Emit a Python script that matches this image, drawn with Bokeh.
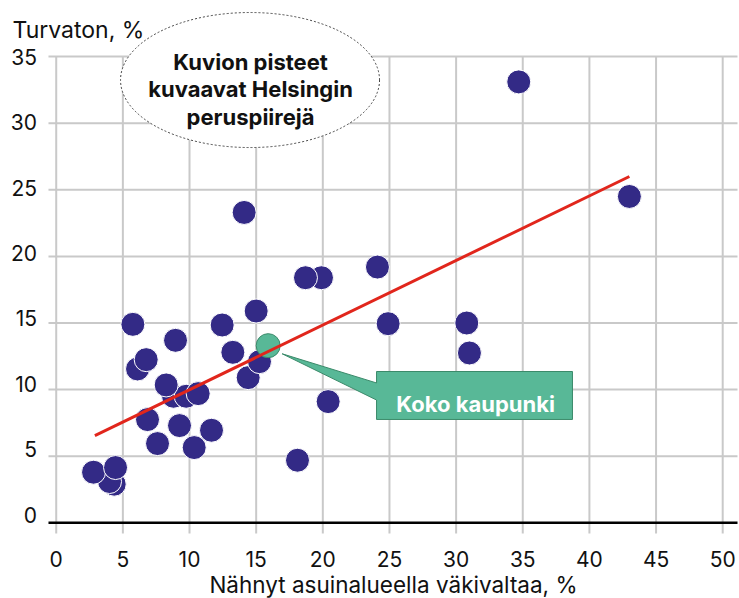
from bokeh.plotting import figure
from bokeh.core.properties import value
from bokeh.embed import file_html
from bokeh.resources import INLINE

# ---------------- data ----------------
violence_seen = [4.35, 4.0, 2.8, 4.45, 34.7, 43.0, 14.1, 19.9, 18.7, 24.1, 15.0,
                 5.75, 12.45, 8.95, 13.25, 14.4, 15.25, 6.1, 6.75, 8.8, 9.75,
                 10.65, 8.25, 6.85, 9.25, 11.65, 7.6, 10.35, 18.1, 20.4, 24.9,
                 30.8, 31.0]
insecure = [2.9, 3.1, 3.8, 4.15, 33.1, 24.5, 23.3, 18.4, 18.4, 19.2, 15.9,
            14.9, 14.85, 13.7, 12.8, 10.9, 12.1, 11.55, 12.25, 9.5, 9.5,
            9.7, 10.35, 7.75, 7.3, 6.95, 5.95, 5.65, 4.7, 9.1, 14.95,
            15.0, 12.75]
city_x = [15.9]
city_y = [13.3]
city_label = "Koko kaupunki"
trend_x = [2.9, 43.0]
trend_y = [6.55, 26.0]
x_ticks = [0, 5, 10, 15, 20, 25, 30, 35, 40, 45, 50]
x_tick_labels = [str(v) for v in x_ticks]
y_ticks = [0, 5, 10, 15, 20, 25, 30, 35]
y_tick_labels = [str(v) for v in y_ticks]
y_title = "Turvaton, %"
x_title = "Nähnyt asuinalueella väkivaltaa, %"
note_lines = ["Kuvion pisteet", "kuvaavat Helsingin", "peruspiirejä"]

FONT = "Inter"
TXT = "#111111"
BLUE = "#332a86"
GREEN = "#58b897"
GREEN_DARK = "#3b8a6a"
RED = "#e1261c"
GRID = "#c9c9c9"

# plot ranges (the frame covers the whole canvas)
X0, X1 = -4.18, 51.26
Y0, Y1 = -5.68, 39.21
GRID_X0, GRID_X1 = -0.58, 51.11   # horizontal extent of grid / axis line
GRID_Y0 = -0.80                   # lower end of the vertical grid lines
Y_LABEL_X = -1.44                 # right edge of y tick labels
X_LABEL_Y = -2.70                 # baseline of x tick labels

p = figure(width=739, height=598, x_range=(X0, X1), y_range=(Y0, Y1),
           output_backend="svg", toolbar_location=None,
           x_axis_location=None, y_axis_location=None,
           min_border_left=0, min_border_right=0, min_border_top=0,
           min_border_bottom=0)
p.outline_line_color = None
p.background_fill_color = "white"
p.border_fill_color = "white"
p.grid.visible = False

# grid lines
h_ticks = [v for v in y_ticks if v != 0]
p.segment(x0=[GRID_X0] * len(h_ticks), y0=h_ticks, x1=[GRID_X1] * len(h_ticks),
          y1=h_ticks, line_color=GRID, line_width=2)
p.segment(x0=x_ticks, y0=[max(y_ticks)] * len(x_ticks), x1=x_ticks,
          y1=[GRID_Y0] * len(x_ticks), line_color=GRID, line_width=2)
# x axis line at zero
p.segment(x0=[GRID_X0], y0=[0], x1=[GRID_X1], y1=[0], line_color="#000000",
          line_width=2.5)

# x tick labels and axis title
p.text(x=x_ticks, y=[X_LABEL_Y] * len(x_ticks), text=x_tick_labels,
       text_font=value(FONT), text_font_size="21px", text_color=TXT,
       text_align="center", text_baseline="alphabetic")
p.text(x=[25.3], y=[-4.62], text=[x_title], text_font=value(FONT),
       text_font_size="22.5px", text_color=TXT, text_align="center",
       text_baseline="alphabetic")

# y tick labels (drift slightly upward towards the bottom, as in the original)
y_label_offsets = [-(max(y_ticks) - v) * 8 / max(y_ticks) for v in y_ticks]
p.text(x=[Y_LABEL_X] * len(y_ticks), y=y_ticks, text=y_tick_labels,
       y_offset=y_label_offsets, text_font=value(FONT), text_font_size="21px",
       text_color=TXT, text_align="right", text_baseline="middle")

# y title
p.text(x=[-3.28], y=[36.96], text=[y_title], text_font=value(FONT),
       text_font_size="23px", text_color=TXT, text_align="left",
       text_baseline="alphabetic")

# points
p.scatter(violence_seen, insecure, size=24, fill_color=BLUE,
          line_color="white", line_width=1)
p.scatter(city_x, city_y, size=24, fill_color=GREEN,
          line_color=GREEN_DARK, line_width=1)

# trend line
p.line(trend_x, trend_y, line_color=RED, line_width=3)

# callout for city
p.patch(x=[24.03, 38.73, 38.73, 24.03, 24.03, 16.95, 24.03],
        y=[11.36, 11.36, 7.76, 7.76, 9.22, 12.69, 10.50],
        fill_color=GREEN, line_color=GREEN_DARK, line_width=1)
p.text(x=[31.46], y=[8.93], text=[city_label], text_font=value(FONT),
       text_font_style="bold", text_font_size="22px", text_color="white",
       text_align="center", text_baseline="alphabetic")

# note ellipse
p.ellipse(x=[14.54], y=[33.24], width=[19.43], height=[10.14],
          fill_color="white", line_color="#444444", line_width=1,
          line_dash="2 2")
p.text(x=[14.58] * 3, y=[34.63, 32.53, 30.43], text=note_lines,
       text_font=value(FONT), text_font_style="bold", text_font_size="22px",
       text_color=TXT, text_align="center", text_baseline="alphabetic")

open("out.html", "w").write(file_html(p, INLINE))
